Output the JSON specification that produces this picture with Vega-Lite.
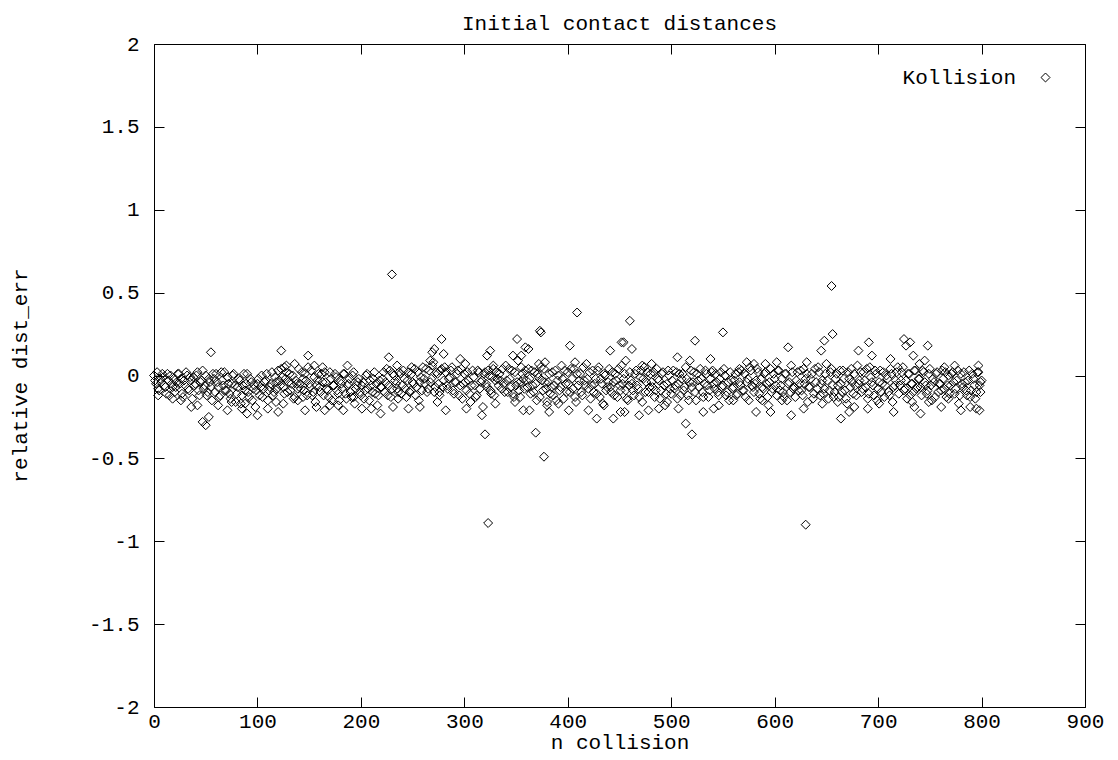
{
"$schema": "https://vega.github.io/schema/vega-lite/v6.json",
"width": 931, "height": 663,
"autosize": {"type": "none"},
"padding": {"left": 154, "top": 44, "right": 33, "bottom": 53},
"background": "white",
"config": {"font": "Liberation Mono", "view": {"stroke": "black", "strokeWidth": 1}},
"title": {"text": "Initial contact distances", "fontSize": 21, "fontWeight": "normal", "font": "Liberation Mono", "color": "black", "anchor": "middle", "frame": "group", "offset": -1},
"datasets": {"d": [
{"n":0,"v":0},{"n":2,"v":-0.05},{"n":4,"v":-0.08},{"n":6,"v":-0.02},{"n":8,"v":0.01},{"n":10,"v":-0.06},{"n":12,"v":-0.11},{"n":14,"v":-0.03},{"n":16,"v":0},{"n":18,"v":-0.07},
{"n":20,"v":-0.1},{"n":22,"v":-0.04},{"n":24,"v":0.01},{"n":26,"v":-0.02},{"n":28,"v":-0.13},{"n":30,"v":-0.06},{"n":32,"v":0},{"n":34,"v":-0.09},{"n":36,"v":-0.03},{"n":38,"v":-0.01},
{"n":40,"v":-0.05},{"n":42,"v":0.02},{"n":44,"v":-0.12},{"n":46,"v":-0.03},{"n":48,"v":-0.08},{"n":50,"v":0},{"n":52,"v":-0.1},{"n":54,"v":-0.04},{"n":56,"v":-0.15},{"n":58,"v":-0.02},
{"n":60,"v":0.01},{"n":62,"v":-0.07},{"n":64,"v":-0.12},{"n":66,"v":-0.03},{"n":68,"v":0.02},{"n":70,"v":-0.09},{"n":72,"v":-0.05},{"n":74,"v":-0.14},{"n":76,"v":0},{"n":78,"v":-0.06},
{"n":80,"v":-0.11},{"n":82,"v":-0.02},{"n":84,"v":-0.17},{"n":86,"v":-0.06},{"n":88,"v":-0.09},{"n":90,"v":0.01},{"n":92,"v":-0.13},{"n":94,"v":-0.04},{"n":96,"v":-0.08},{"n":98,"v":-0.19},
{"n":100,"v":-0.05},{"n":102,"v":-0.12},{"n":104,"v":0},{"n":106,"v":-0.08},{"n":108,"v":-0.03},{"n":110,"v":-0.15},{"n":112,"v":-0.07},{"n":114,"v":0.02},{"n":116,"v":-0.1},{"n":118,"v":-0.04},
{"n":120,"v":0.03},{"n":122,"v":-0.06},{"n":124,"v":-0.01},{"n":126,"v":-0.11},{"n":128,"v":0.02},{"n":130,"v":-0.04},{"n":132,"v":-0.09},{"n":134,"v":0},{"n":136,"v":-0.13},{"n":138,"v":-0.05},
{"n":140,"v":0.04},{"n":142,"v":-0.08},{"n":144,"v":-0.02},{"n":146,"v":0.01},{"n":148,"v":-0.12},{"n":150,"v":-0.05},{"n":152,"v":0.03},{"n":154,"v":-0.1},{"n":156,"v":-0.16},{"n":158,"v":-0.03},
{"n":160,"v":-0.07},{"n":162,"v":0.01},{"n":164,"v":-0.12},{"n":166,"v":-0.04},{"n":168,"v":-0.09},{"n":170,"v":0.02},{"n":172,"v":-0.15},{"n":174,"v":-0.06},{"n":176,"v":-0.01},{"n":178,"v":-0.11},
{"n":180,"v":-0.03},{"n":182,"v":-0.08},{"n":184,"v":0.01},{"n":186,"v":-0.14},{"n":188,"v":-0.05},{"n":190,"v":-0.1},{"n":192,"v":0},{"n":194,"v":-0.17},{"n":196,"v":-0.06},{"n":198,"v":-0.02},
{"n":200,"v":-0.12},{"n":202,"v":-0.04},{"n":204,"v":-0.09},{"n":206,"v":0.01},{"n":208,"v":-0.15},{"n":210,"v":-0.06},{"n":212,"v":-0.02},{"n":214,"v":-0.11},{"n":216,"v":-0.18},{"n":218,"v":-0.03},
{"n":220,"v":-0.07},{"n":222,"v":0.02},{"n":224,"v":-0.04},{"n":226,"v":-0.12},{"n":228,"v":0.03},{"n":230,"v":-0.08},{"n":232,"v":0},{"n":234,"v":-0.05},{"n":236,"v":-0.1},{"n":238,"v":0.01},
{"n":240,"v":-0.06},{"n":242,"v":-0.02},{"n":244,"v":-0.13},{"n":246,"v":0.02},{"n":248,"v":-0.09},{"n":250,"v":-0.04},{"n":252,"v":0.04},{"n":254,"v":-0.07},{"n":256,"v":-0.15},{"n":258,"v":-0.01},
{"n":260,"v":0.05},{"n":262,"v":-0.05},{"n":264,"v":-0.1},{"n":266,"v":0.03},{"n":268,"v":-0.02},{"n":270,"v":0.08},{"n":272,"v":-0.07},{"n":274,"v":0.01},{"n":276,"v":-0.12},{"n":278,"v":0.04},
{"n":280,"v":-0.03},{"n":282,"v":0.02},{"n":284,"v":-0.08},{"n":286,"v":-0.01},{"n":288,"v":0.05},{"n":290,"v":-0.11},{"n":292,"v":-0.04},{"n":294,"v":0.03},{"n":296,"v":-0.06},{"n":298,"v":-0.14},
{"n":300,"v":0.01},{"n":302,"v":-0.09},{"n":304,"v":-0.03},{"n":306,"v":-0.16},{"n":308,"v":0.03},{"n":310,"v":-0.06},{"n":312,"v":-0.12},{"n":314,"v":0.02},{"n":316,"v":-0.04},{"n":318,"v":-0.19},
{"n":320,"v":0.02},{"n":322,"v":-0.07},{"n":324,"v":0},{"n":326,"v":-0.11},{"n":328,"v":0.04},{"n":330,"v":-0.03},{"n":332,"v":-0.02},{"n":334,"v":0.01},{"n":336,"v":-0.08},{"n":338,"v":-0.05},
{"n":340,"v":0.06},{"n":342,"v":-0.1},{"n":344,"v":-0.02},{"n":346,"v":0.03},{"n":348,"v":-0.13},{"n":350,"v":-0.06},{"n":352,"v":0.09},{"n":354,"v":-0.04},{"n":356,"v":0.01},{"n":358,"v":-0.08},
{"n":360,"v":-0.03},{"n":362,"v":0.04},{"n":364,"v":-0.11},{"n":366,"v":-0.06},{"n":368,"v":0.02},{"n":370,"v":-0.15},{"n":372,"v":-0.01},{"n":374,"v":0.05},{"n":376,"v":-0.09},{"n":378,"v":-0.04},
{"n":380,"v":-0.18},{"n":382,"v":0.01},{"n":384,"v":-0.07},{"n":386,"v":-0.12},{"n":388,"v":0.03},{"n":390,"v":-0.03},{"n":392,"v":-0.09},{"n":394,"v":0.06},{"n":396,"v":-0.14},{"n":398,"v":-0.05},
{"n":400,"v":0.02},{"n":402,"v":-0.1},{"n":404,"v":-0.02},{"n":406,"v":0.04},{"n":408,"v":-0.16},{"n":410,"v":-0.06},{"n":412,"v":0.01},{"n":414,"v":-0.12},{"n":416,"v":-0.03},{"n":418,"v":0.07},
{"n":420,"v":-0.08},{"n":422,"v":-0.14},{"n":424,"v":0.03},{"n":426,"v":-0.05},{"n":428,"v":-0.11},{"n":430,"v":0.05},{"n":432,"v":-0.02},{"n":434,"v":-0.17},{"n":436,"v":0},{"n":438,"v":-0.07},
{"n":440,"v":0.04},{"n":442,"v":-0.1},{"n":444,"v":-0.04},{"n":446,"v":0.01},{"n":448,"v":-0.13},{"n":450,"v":-0.06},{"n":452,"v":0.06},{"n":454,"v":-0.02},{"n":456,"v":-0.09},{"n":458,"v":-0.15},
{"n":460,"v":0.02},{"n":462,"v":-0.05},{"n":464,"v":-0.12},{"n":466,"v":0.03},{"n":468,"v":-0.08},{"n":470,"v":-0.01},{"n":472,"v":-0.16},{"n":474,"v":0.05},{"n":476,"v":-0.04},{"n":478,"v":-0.1},
{"n":480,"v":0.01},{"n":482,"v":-0.07},{"n":484,"v":-0.13},{"n":486,"v":0.04},{"n":488,"v":-0.03},{"n":490,"v":-0.09},{"n":492,"v":0.02},{"n":494,"v":-0.18},{"n":496,"v":-0.05},{"n":498,"v":0},
{"n":500,"v":-0.11},{"n":502,"v":0.03},{"n":504,"v":-0.06},{"n":506,"v":-0.14},{"n":508,"v":0.01},{"n":510,"v":-0.02},{"n":512,"v":-0.09},{"n":514,"v":0.05},{"n":516,"v":-0.12},{"n":518,"v":-0.04},
{"n":520,"v":-0.07},{"n":522,"v":0.02},{"n":524,"v":-0.15},{"n":526,"v":-0.03},{"n":528,"v":0.04},{"n":530,"v":-0.1},{"n":532,"v":-0.05},{"n":534,"v":0.01},{"n":536,"v":-0.13},{"n":538,"v":-0.02},
{"n":540,"v":0.03},{"n":542,"v":-0.08},{"n":544,"v":-0.04},{"n":546,"v":-0.12},{"n":548,"v":0.02},{"n":550,"v":-0.06},{"n":552,"v":0},{"n":554,"v":-0.1},{"n":556,"v":-0.15},{"n":558,"v":-0.03},
{"n":560,"v":-0.07},{"n":562,"v":0.01},{"n":564,"v":-0.11},{"n":566,"v":-0.04},{"n":568,"v":0.03},{"n":570,"v":-0.09},{"n":572,"v":-0.13},{"n":574,"v":-0.02},{"n":576,"v":0.05},{"n":578,"v":-0.06},
{"n":580,"v":-0.1},{"n":582,"v":-0.03},{"n":584,"v":0.02},{"n":586,"v":-0.14},{"n":588,"v":-0.07},{"n":590,"v":0.01},{"n":592,"v":-0.05},{"n":594,"v":-0.18},{"n":596,"v":0.04},{"n":598,"v":-0.08},
{"n":600,"v":-0.02},{"n":602,"v":-0.12},{"n":604,"v":0.03},{"n":606,"v":-0.06},{"n":608,"v":-0.1},{"n":610,"v":0.01},{"n":612,"v":-0.15},{"n":614,"v":-0.04},{"n":616,"v":0.06},{"n":618,"v":-0.08},
{"n":620,"v":-0.13},{"n":622,"v":0.02},{"n":624,"v":-0.05},{"n":626,"v":-0.09},{"n":628,"v":0.04},{"n":630,"v":-0.02},{"n":632,"v":-0.16},{"n":634,"v":-0.07},{"n":636,"v":0.01},{"n":638,"v":-0.11},
{"n":640,"v":-0.04},{"n":642,"v":0.05},{"n":644,"v":-0.12},{"n":646,"v":-0.03},{"n":648,"v":-0.08},{"n":650,"v":0.07},{"n":652,"v":-0.14},{"n":654,"v":0.02},{"n":656,"v":-0.06},{"n":658,"v":-0.1},
{"n":660,"v":0.01},{"n":662,"v":-0.13},{"n":664,"v":-0.05},{"n":666,"v":0.03},{"n":668,"v":-0.09},{"n":670,"v":-0.17},{"n":672,"v":-0.02},{"n":674,"v":0.04},{"n":676,"v":-0.11},{"n":678,"v":-0.06},
{"n":680,"v":0.06},{"n":682,"v":-0.03},{"n":684,"v":-0.1},{"n":686,"v":0.02},{"n":688,"v":-0.07},{"n":690,"v":-0.14},{"n":692,"v":0.05},{"n":694,"v":-0.04},{"n":696,"v":-0.12},{"n":698,"v":0.01},
{"n":700,"v":-0.08},{"n":702,"v":0.03},{"n":704,"v":-0.05},{"n":706,"v":-0.13},{"n":708,"v":0},{"n":710,"v":-0.1},{"n":712,"v":0.04},{"n":714,"v":-0.16},{"n":716,"v":-0.06},{"n":718,"v":0.02},
{"n":720,"v":-0.11},{"n":722,"v":-0.03},{"n":724,"v":0.05},{"n":726,"v":-0.08},{"n":728,"v":-0.14},{"n":730,"v":0.01},{"n":732,"v":-0.05},{"n":734,"v":-0.1},{"n":736,"v":0.03},{"n":738,"v":-0.07},
{"n":740,"v":-0.02},{"n":742,"v":-0.12},{"n":744,"v":0.02},{"n":746,"v":-0.06},{"n":748,"v":-0.09},{"n":750,"v":0.04},{"n":752,"v":-0.15},{"n":754,"v":-0.04},{"n":756,"v":0.01},{"n":758,"v":-0.1},
{"n":760,"v":-0.05},{"n":762,"v":0.03},{"n":764,"v":-0.08},{"n":766,"v":-0.13},{"n":768,"v":0},{"n":770,"v":-0.06},{"n":772,"v":0.02},{"n":774,"v":-0.11},{"n":776,"v":-0.03},{"n":778,"v":-0.17},
{"n":780,"v":0.01},{"n":782,"v":-0.07},{"n":784,"v":-0.04},{"n":786,"v":-0.12},{"n":788,"v":0.03},{"n":790,"v":-0.09},{"n":792,"v":-0.02},{"n":794,"v":-0.14},{"n":796,"v":0.02},{"n":798,"v":-0.06},
{"n":800,"v":-0.03},
{"n":1,"v":-0.03},{"n":3,"v":0.02},{"n":5,"v":-0.09},{"n":7,"v":-0.04},{"n":9,"v":-0.01},{"n":11,"v":-0.07},{"n":13,"v":0.01},{"n":15,"v":-0.12},{"n":17,"v":-0.05},{"n":19,"v":-0.02},
{"n":21,"v":-0.07},{"n":23,"v":0.01},{"n":25,"v":-0.05},{"n":27,"v":-0.11},{"n":29,"v":-0.03},{"n":31,"v":0.02},{"n":33,"v":-0.08},{"n":35,"v":-0.01},{"n":37,"v":-0.14},{"n":39,"v":-0.06},
{"n":41,"v":0},{"n":43,"v":-0.09},{"n":45,"v":-0.04},{"n":47,"v":0.03},{"n":49,"v":-0.06},{"n":51,"v":-0.12},{"n":53,"v":-0.02},{"n":55,"v":-0.07},{"n":57,"v":0.01},{"n":59,"v":-0.1},
{"n":61,"v":-0.04},{"n":63,"v":-0.13},{"n":65,"v":0.02},{"n":67,"v":-0.06},{"n":69,"v":-0.09},{"n":71,"v":-0.01},{"n":73,"v":-0.11},{"n":75,"v":-0.05},{"n":77,"v":0.01},{"n":79,"v":-0.16},
{"n":81,"v":-0.07},{"n":83,"v":-0.03},{"n":85,"v":-0.12},{"n":87,"v":0.01},{"n":89,"v":-0.05},{"n":91,"v":-0.1},{"n":93,"v":-0.02},{"n":95,"v":-0.15},{"n":97,"v":-0.06},{"n":99,"v":-0.09},
{"n":101,"v":-0.02},{"n":103,"v":-0.07},{"n":105,"v":-0.13},{"n":107,"v":-0.04},{"n":109,"v":0.01},{"n":111,"v":-0.09},{"n":113,"v":-0.05},{"n":115,"v":-0.12},{"n":117,"v":-0.01},{"n":119,"v":-0.08},
{"n":121,"v":-0.03},{"n":123,"v":0.04},{"n":125,"v":-0.07},{"n":127,"v":-0.02},{"n":129,"v":-0.1},{"n":131,"v":0.01},{"n":133,"v":-0.05},{"n":135,"v":-0.14},{"n":137,"v":-0.03},{"n":139,"v":-0.08},
{"n":141,"v":-0.05},{"n":143,"v":0.02},{"n":145,"v":-0.09},{"n":147,"v":-0.03},{"n":149,"v":0.05},{"n":151,"v":-0.07},{"n":153,"v":-0.12},{"n":155,"v":-0.01},{"n":157,"v":-0.06},{"n":159,"v":0.01},
{"n":161,"v":-0.1},{"n":163,"v":-0.04},{"n":165,"v":0.02},{"n":167,"v":-0.08},{"n":169,"v":-0.13},{"n":171,"v":-0.02},{"n":173,"v":-0.06},{"n":175,"v":0.01},{"n":177,"v":-0.09},{"n":179,"v":-0.15},
{"n":181,"v":-0.05},{"n":183,"v":0.01},{"n":185,"v":-0.11},{"n":187,"v":-0.06},{"n":189,"v":-0.02},{"n":191,"v":-0.13},{"n":193,"v":0.02},{"n":195,"v":-0.08},{"n":197,"v":-0.04},{"n":199,"v":-0.1},
{"n":201,"v":-0.06},{"n":203,"v":-0.14},{"n":205,"v":0},{"n":207,"v":-0.08},{"n":209,"v":-0.03},{"n":211,"v":-0.1},{"n":213,"v":0.02},{"n":215,"v":-0.05},{"n":217,"v":-0.12},{"n":219,"v":-0.07},
{"n":221,"v":-0.02},{"n":223,"v":-0.1},{"n":225,"v":0.04},{"n":227,"v":-0.06},{"n":229,"v":-0.13},{"n":231,"v":0.01},{"n":233,"v":-0.03},{"n":235,"v":-0.08},{"n":237,"v":0.02},{"n":239,"v":-0.11},
{"n":241,"v":0.03},{"n":243,"v":-0.08},{"n":245,"v":-0.03},{"n":247,"v":-0.1},{"n":249,"v":0.01},{"n":251,"v":-0.05},{"n":253,"v":-0.12},{"n":255,"v":0.02},{"n":257,"v":-0.04},{"n":259,"v":-0.09},
{"n":261,"v":-0.02},{"n":263,"v":0.04},{"n":265,"v":-0.08},{"n":267,"v":-0.04},{"n":269,"v":0.06},{"n":271,"v":-0.1},{"n":273,"v":0.02},{"n":275,"v":-0.05},{"n":277,"v":0.03},{"n":279,"v":-0.07},
{"n":281,"v":0.05},{"n":283,"v":-0.06},{"n":285,"v":-0.02},{"n":287,"v":0.03},{"n":289,"v":-0.09},{"n":291,"v":-0.04},{"n":293,"v":0.01},{"n":295,"v":-0.12},{"n":297,"v":0.04},{"n":299,"v":-0.05},
{"n":301,"v":-0.04},{"n":303,"v":0.02},{"n":305,"v":-0.11},{"n":307,"v":-0.06},{"n":309,"v":-0.01},{"n":311,"v":-0.13},{"n":313,"v":0.03},{"n":315,"v":-0.08},{"n":317,"v":-0.03},{"n":319,"v":0.01},
{"n":321,"v":-0.05},{"n":323,"v":0.03},{"n":325,"v":-0.09},{"n":327,"v":-0.01},{"n":329,"v":-0.12},{"n":331,"v":0.02},{"n":333,"v":-0.06},{"n":335,"v":-0.03},{"n":337,"v":0.04},{"n":339,"v":-0.1},
{"n":341,"v":-0.03},{"n":343,"v":0.04},{"n":345,"v":-0.07},{"n":347,"v":-0.11},{"n":349,"v":0.02},{"n":351,"v":-0.04},{"n":353,"v":-0.09},{"n":355,"v":0.05},{"n":357,"v":-0.02},{"n":359,"v":0.03},
{"n":361,"v":-0.07},{"n":363,"v":-0.02},{"n":365,"v":0.03},{"n":367,"v":-0.1},{"n":369,"v":-0.05},{"n":371,"v":0.01},{"n":373,"v":-0.13},{"n":375,"v":-0.03},{"n":377,"v":0.04},{"n":379,"v":-0.08},
{"n":381,"v":-0.04},{"n":383,"v":-0.11},{"n":385,"v":0.02},{"n":387,"v":-0.06},{"n":389,"v":-0.15},{"n":391,"v":0},{"n":393,"v":-0.07},{"n":395,"v":-0.02},{"n":397,"v":0.03},{"n":399,"v":-0.1},
{"n":401,"v":-0.05},{"n":403,"v":0.04},{"n":405,"v":-0.08},{"n":407,"v":-0.13},{"n":409,"v":0.01},{"n":411,"v":-0.03},{"n":413,"v":-0.1},{"n":415,"v":0.05},{"n":417,"v":-0.06},{"n":419,"v":-0.02},
{"n":421,"v":0.02},{"n":423,"v":-0.06},{"n":425,"v":-0.1},{"n":427,"v":-0.02},{"n":429,"v":0.03},{"n":431,"v":-0.13},{"n":433,"v":-0.05},{"n":435,"v":0.01},{"n":437,"v":-0.09},{"n":439,"v":-0.04},
{"n":441,"v":-0.07},{"n":443,"v":0.02},{"n":445,"v":-0.12},{"n":447,"v":-0.03},{"n":449,"v":0.04},{"n":451,"v":-0.09},{"n":453,"v":-0.05},{"n":455,"v":0.01},{"n":457,"v":-0.14},{"n":459,"v":-0.06},
{"n":461,"v":-0.03},{"n":463,"v":-0.09},{"n":465,"v":0.01},{"n":467,"v":-0.06},{"n":469,"v":-0.13},{"n":471,"v":0.03},{"n":473,"v":-0.02},{"n":475,"v":-0.1},{"n":477,"v":0.02},{"n":479,"v":-0.07},
{"n":481,"v":-0.04},{"n":483,"v":0.02},{"n":485,"v":-0.09},{"n":487,"v":-0.02},{"n":489,"v":-0.14},{"n":491,"v":0.01},{"n":493,"v":-0.06},{"n":495,"v":-0.11},{"n":497,"v":0.03},{"n":499,"v":-0.08},
{"n":501,"v":-0.03},{"n":503,"v":-0.08},{"n":505,"v":0.02},{"n":507,"v":-0.05},{"n":509,"v":-0.12},{"n":511,"v":0.01},{"n":513,"v":-0.07},{"n":515,"v":-0.02},{"n":517,"v":-0.15},{"n":519,"v":0.03},
{"n":521,"v":-0.04},{"n":523,"v":-0.1},{"n":525,"v":0.01},{"n":527,"v":-0.07},{"n":529,"v":-0.02},{"n":531,"v":-0.13},{"n":533,"v":0.03},{"n":535,"v":-0.06},{"n":537,"v":-0.09},{"n":539,"v":0.02},
{"n":541,"v":-0.05},{"n":543,"v":0.01},{"n":545,"v":-0.1},{"n":547,"v":-0.02},{"n":549,"v":-0.07},{"n":551,"v":0.04},{"n":553,"v":-0.12},{"n":555,"v":-0.04},{"n":557,"v":0.02},{"n":559,"v":-0.08},
{"n":561,"v":-0.03},{"n":563,"v":-0.12},{"n":565,"v":0.02},{"n":567,"v":-0.06},{"n":569,"v":-0.09},{"n":571,"v":0.01},{"n":573,"v":-0.04},{"n":575,"v":-0.15},{"n":577,"v":0.03},{"n":579,"v":-0.07},
{"n":581,"v":-0.05},{"n":583,"v":0.04},{"n":585,"v":-0.11},{"n":587,"v":-0.02},{"n":589,"v":-0.08},{"n":591,"v":0.02},{"n":593,"v":-0.13},{"n":595,"v":-0.04},{"n":597,"v":-0.1},{"n":599,"v":0.01},
{"n":601,"v":-0.06},{"n":603,"v":0.03},{"n":605,"v":-0.09},{"n":607,"v":-0.02},{"n":609,"v":-0.13},{"n":611,"v":0.01},{"n":613,"v":-0.05},{"n":615,"v":-0.1},{"n":617,"v":0.02},{"n":619,"v":-0.07},
{"n":621,"v":-0.03},{"n":623,"v":-0.09},{"n":625,"v":0.03},{"n":627,"v":-0.12},{"n":629,"v":-0.05},{"n":631,"v":0.01},{"n":633,"v":-0.07},{"n":635,"v":-0.02},{"n":637,"v":-0.14},{"n":639,"v":0.04},
{"n":641,"v":-0.08},{"n":643,"v":0.02},{"n":645,"v":-0.05},{"n":647,"v":-0.11},{"n":649,"v":0.01},{"n":651,"v":-0.03},{"n":653,"v":-0.09},{"n":655,"v":0.04},{"n":657,"v":-0.13},{"n":659,"v":-0.02},
{"n":661,"v":-0.06},{"n":663,"v":0.03},{"n":665,"v":-0.1},{"n":667,"v":-0.02},{"n":669,"v":-0.14},{"n":671,"v":0.02},{"n":673,"v":-0.07},{"n":675,"v":-0.04},{"n":677,"v":0.01},{"n":679,"v":-0.12},
{"n":681,"v":-0.05},{"n":683,"v":0.02},{"n":685,"v":-0.08},{"n":687,"v":-0.03},{"n":689,"v":0.04},{"n":691,"v":-0.11},{"n":693,"v":-0.01},{"n":695,"v":-0.06},{"n":697,"v":0.03},{"n":699,"v":-0.15},
{"n":701,"v":-0.04},{"n":703,"v":-0.1},{"n":705,"v":0.02},{"n":707,"v":-0.06},{"n":709,"v":-0.02},{"n":711,"v":-0.12},{"n":713,"v":0.01},{"n":715,"v":-0.07},{"n":717,"v":-0.03},{"n":719,"v":0.05},
{"n":721,"v":-0.06},{"n":723,"v":0.02},{"n":725,"v":-0.09},{"n":727,"v":-0.03},{"n":729,"v":0.01},{"n":731,"v":-0.12},{"n":733,"v":-0.05},{"n":735,"v":0.03},{"n":737,"v":-0.08},{"n":739,"v":-0.02},
{"n":741,"v":-0.07},{"n":743,"v":0.03},{"n":745,"v":-0.04},{"n":747,"v":-0.11},{"n":749,"v":0.01},{"n":751,"v":-0.06},{"n":753,"v":-0.02},{"n":755,"v":-0.13},{"n":757,"v":0.02},{"n":759,"v":-0.05},
{"n":761,"v":-0.09},{"n":763,"v":-0.02},{"n":765,"v":0.02},{"n":767,"v":-0.06},{"n":769,"v":-0.11},{"n":771,"v":0.01},{"n":773,"v":-0.04},{"n":775,"v":-0.08},{"n":777,"v":0.03},{"n":779,"v":-0.12},
{"n":781,"v":-0.05},{"n":783,"v":0.02},{"n":785,"v":-0.09},{"n":787,"v":-0.03},{"n":789,"v":-0.13},{"n":791,"v":0.01},{"n":793,"v":-0.06},{"n":795,"v":-0.1},{"n":797,"v":0.02},{"n":799,"v":-0.04},
{"n":55,"v":0.14},{"n":47,"v":-0.28},{"n":50,"v":-0.3},{"n":53,"v":-0.25},{"n":42,"v":-0.18},{"n":36,"v":-0.19},{"n":26,"v":-0.15},{"n":18,"v":-0.14},{"n":4,"v":-0.12},{"n":62,"v":-0.18},{"n":71,"v":-0.21},{"n":75,"v":-0.16},{"n":85,"v":-0.2},{"n":88,"v":-0.17},
{"n":123,"v":0.15},{"n":149,"v":0.12},{"n":128,"v":0.06},{"n":136,"v":0.07},{"n":126,"v":0.05},{"n":155,"v":0.06},{"n":163,"v":0.05},{"n":90,"v":-0.23},{"n":100,"v":-0.24},{"n":110,"v":-0.2},{"n":120,"v":-0.22},{"n":125,"v":-0.17},{"n":118,"v":-0.16},{"n":146,"v":-0.21},{"n":157,"v":-0.19},{"n":165,"v":-0.21},{"n":170,"v":-0.18},{"n":144,"v":-0.13},{"n":139,"v":-0.15},
{"n":230,"v":0.61},{"n":227,"v":0.11},{"n":235,"v":0.06},{"n":249,"v":0.05},{"n":187,"v":0.06},{"n":269,"v":0.14},{"n":267,"v":0.09},{"n":183,"v":-0.21},{"n":201,"v":-0.2},{"n":219,"v":-0.23},{"n":210,"v":-0.2},{"n":231,"v":-0.19},{"n":246,"v":-0.2},{"n":257,"v":-0.19},{"n":178,"v":-0.18},{"n":193,"v":-0.13},{"n":236,"v":-0.14},
{"n":278,"v":0.22},{"n":351,"v":0.22},{"n":325,"v":0.15},{"n":322,"v":0.12},{"n":280,"v":0.13},{"n":271,"v":0.16},{"n":359,"v":0.17},{"n":347,"v":0.12},{"n":355,"v":0.12},{"n":296,"v":0.1},{"n":301,"v":0.07},{"n":328,"v":0.06},{"n":320,"v":-0.355},{"n":323,"v":-0.89},{"n":282,"v":-0.21},{"n":317,"v":-0.24},{"n":302,"v":-0.2},{"n":330,"v":-0.17},{"n":357,"v":-0.21},{"n":349,"v":-0.16},{"n":354,"v":-0.13},{"n":274,"v":-0.16},{"n":276,"v":-0.1},{"n":325,"v":-0.09},
{"n":409,"v":0.38},{"n":373,"v":0.27},{"n":374,"v":0.26},{"n":402,"v":0.18},{"n":407,"v":0.08},{"n":441,"v":0.15},{"n":452,"v":0.2},{"n":362,"v":0.16},{"n":372,"v":0.07},{"n":378,"v":0.08},{"n":369,"v":-0.345},{"n":377,"v":-0.49},{"n":382,"v":-0.22},{"n":428,"v":-0.26},{"n":444,"v":-0.26},{"n":451,"v":-0.22},{"n":420,"v":-0.21},{"n":401,"v":-0.21},{"n":380,"v":-0.16},{"n":391,"v":-0.17},{"n":435,"v":-0.18},{"n":363,"v":-0.21},
{"n":460,"v":0.33},{"n":523,"v":0.21},{"n":454,"v":0.2},{"n":462,"v":0.16},{"n":506,"v":0.11},{"n":518,"v":0.09},{"n":538,"v":0.1},{"n":481,"v":0.07},{"n":472,"v":0.06},{"n":456,"v":0.09},{"n":514,"v":-0.29},{"n":520,"v":-0.355},{"n":469,"v":-0.24},{"n":478,"v":-0.21},{"n":488,"v":-0.2},{"n":507,"v":-0.2},{"n":531,"v":-0.22},{"n":541,"v":-0.2},{"n":455,"v":-0.22},{"n":496,"v":-0.16},
{"n":550,"v":0.26},{"n":613,"v":0.17},{"n":573,"v":0.08},{"n":580,"v":0.07},{"n":591,"v":0.07},{"n":602,"v":0.08},{"n":631,"v":0.08},{"n":566,"v":0.04},{"n":630,"v":-0.9},{"n":582,"v":-0.22},{"n":596,"v":-0.22},{"n":616,"v":-0.24},{"n":628,"v":-0.2},{"n":588,"v":-0.15},{"n":560,"v":-0.15},{"n":546,"v":-0.18},{"n":607,"v":-0.15},
{"n":655,"v":0.54},{"n":656,"v":0.25},{"n":648,"v":0.21},{"n":645,"v":0.15},{"n":691,"v":0.2},{"n":681,"v":0.15},{"n":694,"v":0.12},{"n":712,"v":0.1},{"n":725,"v":0.22},{"n":727,"v":0.18},{"n":664,"v":-0.26},{"n":672,"v":-0.22},{"n":677,"v":-0.19},{"n":690,"v":-0.2},{"n":701,"v":-0.17},{"n":715,"v":-0.22},{"n":661,"v":-0.16},{"n":646,"v":-0.17},
{"n":731,"v":0.2},{"n":734,"v":0.12},{"n":745,"v":0.09},{"n":774,"v":0.06},{"n":797,"v":0.06},{"n":740,"v":0.07},{"n":764,"v":0.05},{"n":741,"v":-0.23},{"n":749,"v":-0.16},{"n":761,"v":-0.19},{"n":780,"v":-0.21},{"n":789,"v":-0.19},{"n":795,"v":-0.2},{"n":798,"v":-0.21},{"n":735,"v":-0.19},{"n":768,"v":-0.14},{"n":799,"v":-0.1},{"n":733,"v":-0.16},{"n":748,"v":0.18}
]},
"layer": [
{
"mark": {"type": "rule", "color": "black", "strokeWidth": 1, "strokeDash": [1, 3]},
"encoding": {"y": {"datum": 0, "type": "quantitative", "scale": {"domain": [-2, 2], "nice": false, "zero": false}, "axis": null}}
},
{
"data": {"name": "d"},
"mark": {"type": "point", "shape": "diamond", "filled": false, "size": 80, "strokeWidth": 1, "opacity": 1},
"encoding": {
"x": {"field": "n", "type": "quantitative", "scale": {"domain": [0, 900], "nice": false, "zero": false},
 "axis": {"orient": "bottom", "values": [0,100,200,300,400,500,600,700,800,900], "grid": false, "domain": false, "labelFlush": false, "tickSize": -10, "tickColor": "black", "tickWidth": 1, "labelPadding": 13, "labelFontSize": 21, "labelFont": "Liberation Mono", "labelColor": "black", "title": "n collision", "titleFont": "Liberation Mono", "titleFontSize": 21, "titleFontWeight": "normal", "titleColor": "black", "titleY": 35, "titleBaseline": "middle"}},
"y": {"field": "v", "type": "quantitative", "scale": {"domain": [-2, 2], "nice": false, "zero": false},
 "axis": {"orient": "left", "values": [-2,-1.5,-1,-0.5,0,0.5,1,1.5,2], "labelExpr": "'' + datum.value", "grid": false, "domain": false, "labelFlush": false, "tickSize": -10, "tickColor": "black", "tickWidth": 1, "labelPadding": 25, "labelFontSize": 21, "labelFont": "Liberation Mono", "labelColor": "black", "title": "relative dist_err", "titleFont": "Liberation Mono", "titleFontSize": 21, "titleFontWeight": "normal", "titleColor": "black", "titleX": -134, "titleY": 331, "titleBaseline": "middle", "titleAlign": "center", "titleAngle": -90}},
"color": {"datum": "Kollision", "type": "nominal", "scale": {"range": ["black"]},
 "legend": {"title": null, "orient": "none", "legendX": 881, "legendY": 23, "symbolType": "diamond", "symbolSize": 80, "symbolStrokeWidth": 1, "symbolFillColor": "transparent", "labelFont": "Liberation Mono", "labelFontSize": 21, "labelColor": "black", "labelAlign": "right", "labelOffset": -40, "padding": 0}}
}
},
{
"data": {"name": "d"},
"mark": {"type": "point", "opacity": 0},
"encoding": {
"x": {"field": "n", "type": "quantitative", "scale": {"domain": [0, 900], "nice": false, "zero": false},
 "axis": {"orient": "top", "values": [0,100,200,300,400,500,600,700,800,900], "grid": false, "domain": false, "labels": false, "tickSize": -10, "tickColor": "black", "tickWidth": 1, "title": null}},
"y": {"field": "v", "type": "quantitative", "scale": {"domain": [-2, 2], "nice": false, "zero": false},
 "axis": {"orient": "right", "values": [-2,-1.5,-1,-0.5,0,0.5,1,1.5,2], "grid": false, "domain": false, "labels": false, "tickSize": -10, "tickColor": "black", "tickWidth": 1, "title": null}}
}
}
],
"resolve": {"axis": {"x": "independent", "y": "independent"}}
}
